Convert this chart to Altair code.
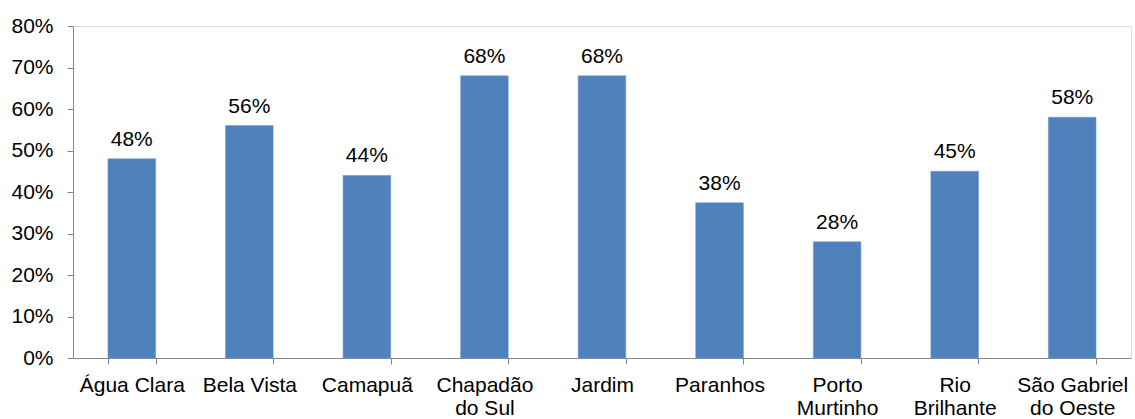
import altair as alt
import pandas as pd

categories = ["Água Clara", "Bela Vista", "Camapuã", "Chapadão\ndo Sul", "Jardim",
              "Paranhos", "Porto\nMurtinho", "Rio\nBrilhante", "São Gabriel\ndo Oeste"]
values = [0.48, 0.56, 0.44, 0.68, 0.68, 0.374, 0.28, 0.45, 0.58]
labels = ["48%", "56%", "44%", "68%", "68%", "38%", "28%", "45%", "58%"]
y_ticks = [0, 0.1, 0.2, 0.3, 0.4, 0.5, 0.6, 0.7, 0.8]

df = pd.DataFrame({"cat": categories, "val": values, "lab": labels})

FONT = "Liberation Sans"
AXIS_GRAY = "#868686"

x = alt.X("cat:N", sort=categories, title=None,
          scale=alt.Scale(paddingInner=0.595, paddingOuter=0.2975),
          axis=alt.Axis(labelAngle=0,
                        labelExpr="isValid(datum.value) ? split(datum.value, '\\n') : ''",
                        labelFont=FONT, labelFontSize=21, labelColor="#000000",
                        labelLineHeight=23.5, labelPadding=10, labelBaseline="top",
                        tickBand="extent", tickSize=6, tickColor=AXIS_GRAY,
                        domainColor=AXIS_GRAY, labelLimit=0))
y = alt.Y("val:Q", title=None,
          scale=alt.Scale(domain=[0, 0.8], nice=False),
          axis=alt.Axis(values=y_ticks, format=".0%", grid=False,
                        labelFont=FONT, labelFontSize=21, labelColor="#000000",
                        labelPadding=14, tickSize=6, tickColor=AXIS_GRAY,
                        domainColor=AXIS_GRAY))

bars = alt.Chart(df).mark_bar(color="#4F81BD", stroke="#6F97CB", strokeWidth=0.6).encode(x=x, y=y)
text = alt.Chart(df).mark_text(font=FONT, fontSize=21, color="#000000",
                               baseline="alphabetic", dy=-13).encode(
    x=alt.X("cat:N", sort=categories), y="val:Q", text="lab:N")

chart = (bars + text).properties(
    width=1058, height=332,
    autosize=alt.AutoSizeParams(type="none"),
    padding={"left": 73, "top": 26, "right": 4, "bottom": 61},
).configure_view(stroke=None).configure(background="white")

chart.save("out.html", embed_options={"renderer": "svg", "actions": False})
